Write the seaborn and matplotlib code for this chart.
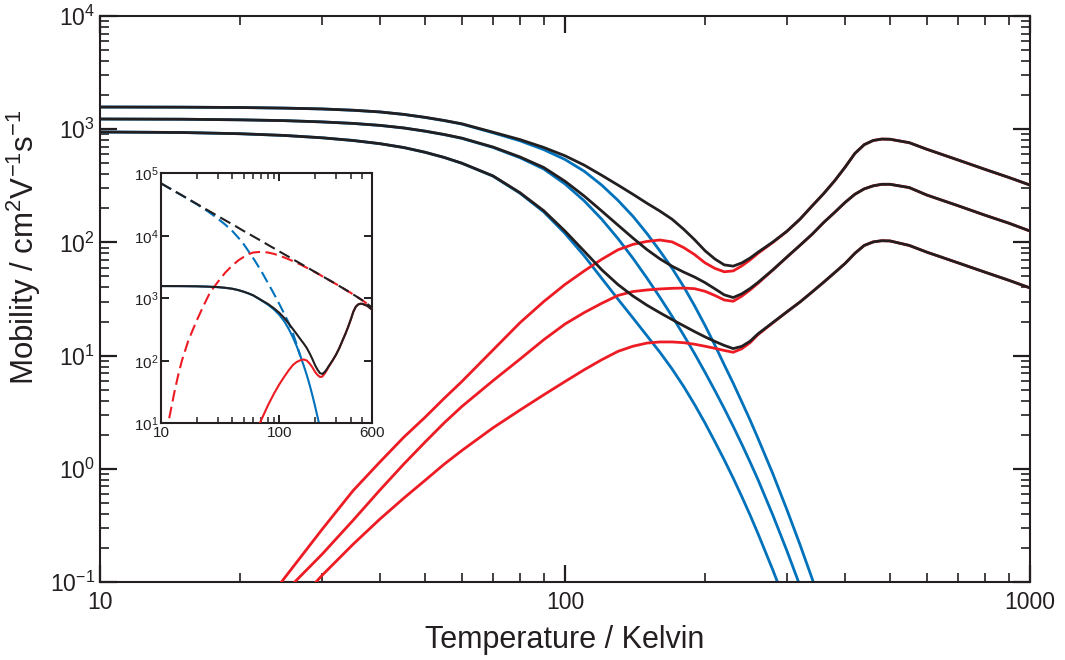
import numpy as np
import pandas as pd
import matplotlib
matplotlib.use("Agg")
import matplotlib.pyplot as plt
import seaborn as sns
from matplotlib.ticker import FixedLocator, FixedFormatter, LogLocator, NullFormatter, NullLocator

nan = np.nan

# ---- temperature grid (K) shared by the main-panel curves ----
temperature_k = [10, 15, 20, 25, 30, 35, 40, 45, 50, 55, 60, 70, 80, 90, 100, 110, 120,
                 130, 140, 150, 160, 170, 180, 190, 200, 210, 220, 230, 240, 250, 260,
                 280, 300, 320, 340, 360, 380, 400, 420, 440, 460, 480, 500, 550, 600,
                 700, 800, 900, 1000]

# band-like (blue) contribution, cm^2/Vs
blue_high = [1570, 1565, 1555, 1535, 1510, 1470, 1420, 1350, 1270, 1190, 1110, 930, 790,
             660, 540, 425, 320, 235, 170, 120, 84, 59, 40.6, 27.5, 18.5, 12.4, 8.3, 5.7,
             3.9, 2.7, 1.86, 0.9, 0.436, 0.215, 0.107, 0.054,
             nan, nan, nan, nan, nan, nan, nan, nan, nan, nan, nan, nan, nan]
blue_mid = [1230, 1225, 1210, 1190, 1160, 1125, 1080, 1025, 960, 895, 830, 690, 560, 445,
            328, 232.6, 160, 108, 72.4, 48.5, 32.7, 22.2, 15.15, 10.4, 7.13, 4.92, 3.41,
            2.37, 1.65, 1.15, 0.803, 0.388, 0.189, 0.093, 0.046,
            nan, nan, nan, nan, nan, nan, nan, nan, nan, nan, nan, nan, nan, nan]
blue_low = [945, 935, 912, 880, 840, 795, 745, 688, 625, 562, 500, 385, 272, 186, 120, 76,
            48, 31.5, 21.5, 15.0, 10.7, 7.6, 5.33, 3.69, 2.54, 1.74, 1.20, 0.827, 0.568,
            0.391, 0.268, 0.127, 0.061,
            nan, nan, nan, nan, nan, nan, nan, nan, nan, nan, nan, nan, nan, nan, nan, nan]

# thermally activated (red) contribution
red_high = [nan, nan, 0.033, 0.11, 0.29, 0.64, 1.15, 1.9, 2.85, 4.2, 5.9, 11.2, 19.5, 30,
            42.5, 56, 71, 86, 96, 102, 105, 101, 90, 78, 66, 59, 55, 56, 62, 70, 80, 100,
            125, 160, 210, 270, 350, 460, 610, 730, 795, 818, 815, 760, 665, 535, 442,
            375, 321]
red_mid = [nan, nan, 0.03, 0.082, 0.175, 0.35, 0.65, 1.1, 1.72, 2.55, 3.55, 6.0, 9.3,
           13.8, 19.0, 24.0, 29.0, 34.0, 36.8, 38.0, 38.8, 39.3, 39.5, 39.0, 37.0, 34.0,
           31.0, 30.2, 33.5, 38.0, 43.5, 57, 74, 94, 118, 150, 184, 225, 266, 297, 316,
           326, 326, 305, 262, 211, 174, 148, 126]
red_low = [nan, nan, nan, 0.05, 0.114, 0.215, 0.36, 0.55, 0.79, 1.1, 1.45, 2.3, 3.3, 4.5,
           5.9, 7.5, 9.2, 10.9, 12.1, 12.9, 13.2, 13.2, 13.0, 12.6, 12.1, 11.6, 11.1,
           10.7, 11.5, 13.0, 15.3, 19.5, 24.3, 29.7, 36.5, 44.5, 54, 65, 80, 94, 101,
           103.5, 103, 94, 82, 66, 54.6, 46.3, 39.6]

# total mobility (black)
total_high = [1570, 1565, 1555, 1535, 1510, 1471, 1421, 1352, 1273, 1194, 1116, 941, 810,
              690, 582.5, 481, 391, 321, 266, 222, 189, 160, 130.6, 105.5, 84.5, 71.4,
              63.3, 61.7, 65.9, 72.7, 81.9, 100.9, 125.4, 160.2, 210.1, 270, 350, 460,
              610, 730, 795, 818, 815, 760, 665, 535, 442, 375, 321]
total_mid = [1230, 1225, 1210, 1190, 1160, 1125, 1081, 1026, 962, 898, 834, 696, 569,
             459, 347, 256.6, 189, 142, 109.2, 86.5, 71.5, 61.5, 54.65, 49.4, 44.13,
             38.92, 34.41, 32.57, 35.15, 39.15, 44.3, 57.39, 74.19, 94.09, 118.05, 150,
             184, 225, 266, 297, 316, 326, 326, 305, 262, 211, 174, 148, 126]
total_low = [945, 935, 912, 880, 840, 795, 745, 689, 626, 563, 501, 387, 275, 190.5,
             125.9, 83.5, 57.2, 42.4, 33.6, 27.9, 23.9, 20.8, 18.33, 16.29, 14.64, 13.34,
             12.3, 11.53, 12.07, 13.39, 15.57, 19.63, 24.36, 29.7, 36.5, 44.5, 54, 65,
             80, 94, 101, 103.5, 103, 94, 82, 66, 54.6, 46.3, 39.6]

# ---- inset: intrinsic (dashed) limits ----
inset_blue_t = [10, 15, 20, 25, 30, 35, 40, 45, 50, 55, 60, 70, 80, 90, 100, 110, 120,
                130, 140, 150]
inset_blue_dashed = [69000, 44300, 32000, 24400, 19000, 15000, 11900, 9300, 7300, 5600,
                     4400, 2750, 1750, 1170, 800, 560, 400, 275, 180, 118]
inset_red_t = [11, 12, 13, 14, 15, 17, 20, 23, 26, 30, 35, 40, 45, 50, 55, 60, 70, 80,
               90, 100, 110, 120, 130, 150, 200, 300, 400, 500, 600]
inset_red_dashed = [6.5, 15, 32, 60, 100, 210, 440, 780, 1250, 1800, 2600, 3350, 4050,
                    4600, 5100, 5400, 5550, 5400, 5130, 4800, 4490, 4200, 3930, 3480,
                    2620, 1690, 1220, 930, 720]
inset_total_t = [10, 15, 20, 25, 30, 35, 40, 45, 50, 55, 60, 70, 80, 90, 100, 110, 120,
                 130, 150, 200, 300, 400, 500, 600]
inset_total_dashed = [69000, 44500, 32500, 25400, 20800, 17600, 15300, 13400, 11900,
                      10750, 9800, 8300, 7150, 6300, 5600, 5050, 4600, 4200, 3600, 2630,
                      1690, 1220, 930, 720]

# ---- ticks ----
main_xticks = [10, 100, 1000]
main_xtick_labels = ["10", "100", "1000"]
main_yticks = [0.1, 1, 10, 100, 1000, 10000]
main_ytick_labels = ["10$^{-1}$", "10$^{0}$", "10$^{1}$", "10$^{2}$", "10$^{3}$", "10$^{4}$"]
inset_xticks = [10, 100, 600]
inset_xtick_labels = ["10", "100", "600"]
inset_yticks = [10, 100, 1000, 10000, 100000]
inset_ytick_labels = ["10$^{1}$", "10$^{2}$", "10$^{3}$", "10$^{4}$", "10$^{5}$"]

BLUE = "#0072bc"
RED = "#ed1c24"
INK = "#231f20"

sns.set_theme(style="ticks")
plt.rcParams.update({
    "font.family": ["Liberation Sans", "DejaVu Sans"],
    "mathtext.fontset": "custom",
    "mathtext.rm": "Liberation Sans",
    "mathtext.it": "Liberation Sans:italic",
    "mathtext.bf": "Liberation Sans:bold",
    "mathtext.default": "regular",
    "text.color": INK,
    "axes.labelcolor": INK,
    "axes.edgecolor": INK,
    "xtick.color": INK,
    "ytick.color": INK,
})


def curve(axis, t, mu, color, lw, z, dash=None):
    frame = pd.DataFrame({"T": t, "mu": mu})
    extra = {"linestyle": (0, dash)} if dash else {}
    sns.lineplot(data=frame, x="T", y="mu", ax=axis, color=color, linewidth=lw,
                 estimator=None, errorbar=None, sort=False, zorder=z, **extra)


def style_log_axes(axis, xlim, ylim, xt, xl, yt, yl, fs, major, minor, pad_x, pad_y,
                   y_minor=True, spine=1.5):
    axis.set_xscale("log")
    axis.set_yscale("log")
    axis.set_xlim(*xlim)
    axis.set_ylim(*ylim)
    axis.xaxis.set_major_locator(FixedLocator(xt))
    axis.xaxis.set_major_formatter(FixedFormatter(xl))
    axis.xaxis.set_minor_locator(LogLocator(base=10, subs=np.arange(2, 10)))
    axis.xaxis.set_minor_formatter(NullFormatter())
    axis.yaxis.set_major_locator(FixedLocator(yt))
    axis.yaxis.set_major_formatter(FixedFormatter(yl))
    if y_minor:
        axis.yaxis.set_minor_locator(LogLocator(base=10, subs=np.arange(2, 10)))
    else:
        axis.yaxis.set_minor_locator(NullLocator())
    axis.yaxis.set_minor_formatter(NullFormatter())
    axis.tick_params(which="both", direction="in", top=True, right=True, colors=INK)
    axis.tick_params(which="major", length=major[0], width=major[1], labelsize=fs)
    axis.tick_params(which="minor", length=minor[0], width=minor[1])
    axis.tick_params(axis="x", which="major", pad=pad_x)
    axis.tick_params(axis="y", which="major", pad=pad_y)
    for s in axis.spines.values():
        s.set_visible(True)
        s.set_linewidth(spine)
        s.set_color(INK)


fig = plt.figure(figsize=(10.65, 6.6), dpi=100)
ax = fig.add_axes([0.0939, 0.11818, 0.87324, 0.85758])
ax.set_xscale("log")
ax.set_yscale("log")

for b in (blue_high, blue_mid, blue_low):
    curve(ax, temperature_k, b, BLUE, 2.0, 2)
for r in (red_high, red_mid, red_low):
    curve(ax, temperature_k, r, RED, 2.0, 3)
for k in (total_high, total_mid, total_low):
    curve(ax, temperature_k, k, INK, 2.0, 4)

style_log_axes(ax, (10, 1000), (0.1, 1e4), main_xticks, main_xtick_labels,
               main_yticks, main_ytick_labels, 16.5, (12, 1.6), (6.5, 1.2), 6.5, 3.5)
ax.set_xlabel("Temperature / Kelvin", fontsize=22)
ax.set_ylabel("Mobility / cm$^{2}$V$^{-1}$s$^{-1}$", fontsize=22.5)
ax.xaxis.set_label_coords(0.5, -0.0754)
ax.yaxis.set_label_coords(-0.0618, 0.592)

# inset
axin = fig.add_axes([0.15117, 0.35864, 0.19784, 0.37879])
axin.set_zorder(5)
axin.set_facecolor("white")
axin.set_xscale("log")
axin.set_yscale("log")
curve(axin, temperature_k, blue_high, BLUE, 1.5, 2)
curve(axin, temperature_k, red_high, RED, 1.5, 3)
curve(axin, temperature_k, total_high, INK, 1.5, 4)
curve(axin, inset_blue_t, inset_blue_dashed, BLUE, 1.5, 2, dash=(5.6, 2.6))
curve(axin, inset_red_t, inset_red_dashed, RED, 1.5, 3, dash=(5.6, 2.6))
curve(axin, inset_total_t, inset_total_dashed, INK, 1.5, 4, dash=(5.6, 2.6))
style_log_axes(axin, (10, 600), (10, 1e5), inset_xticks, inset_xtick_labels,
               inset_yticks, inset_ytick_labels, 11, (6, 1.4), (4, 1.1), 2, 1.5,
               y_minor=False, spine=1.5)
axin.set_xlabel("")
axin.set_ylabel("")

fig.savefig("out.png", dpi=100, facecolor="white")
